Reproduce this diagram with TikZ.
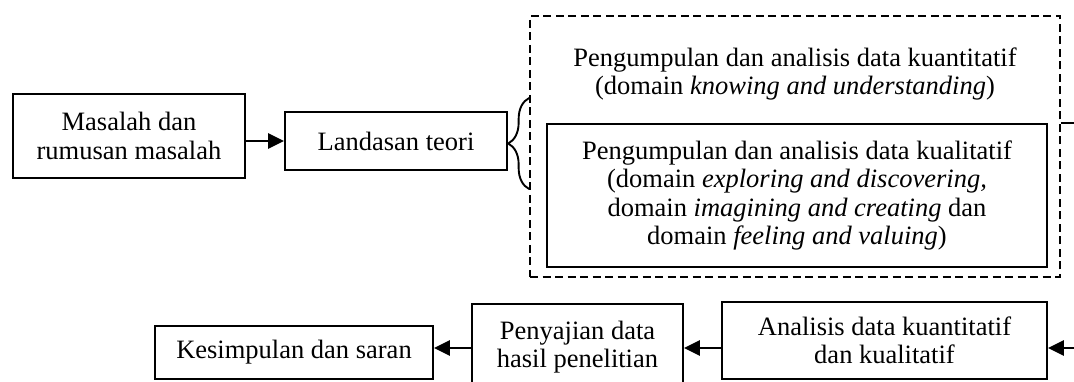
\documentclass[tikz,border=0pt]{standalone}
\usepackage{fontspec}
\setmainfont{Liberation Serif}
\usetikzlibrary{arrows.meta,decorations.pathreplacing}
\begin{document}
\begin{tikzpicture}[x=1pt,y=-1pt,
  lbl/.style={inner sep=0pt, align=center, font=\fontsize{26.5}{28.5}\selectfont},
  box/.style={lbl, draw, line width=1.9pt},
  arr/.style={line width=2.8pt, -{Triangle[length=16pt,width=15pt]}},
  grpbox/.style={draw, line width=1.7pt, dash pattern=on 8pt off 4.5pt},
  bracepath/.style={line width=1.9pt, decorate, decoration={brace, amplitude=21pt}}]
\useasboundingbox (0,0) rectangle (1074,382);
\clip (0,0) rectangle (1074,382);

% top row
\node[box, minimum width=232pt, minimum height=84pt] (masalah) at (129,136) {Masalah dan\\rumusan masalah};
\node[box, minimum width=222pt, minimum height=58pt] (landasan) at (396,141) {Landasan teori};

% dashed group
\node[grpbox, minimum width=530pt, minimum height=261pt] (grp) at (795,146.5) {};
\node[lbl] (kuan) at (795,74) {Pengumpulan dan analisis data kuantitatif\\(domain \textit{knowing and understanding})};
\node[box, minimum width=500pt, minimum height=143pt] (kual) at (797,195.5) {Pengumpulan dan analisis data kualitatif\\(domain \textit{exploring and discovering,}\\domain \textit{imagining and creating} dan\\domain \textit{feeling and valuing})};

% bottom row
\node[box, minimum width=278pt, minimum height=53pt] (kesimpulan) at (294,352.5) {Kesimpulan dan saran};
\node[box, minimum width=211pt, minimum height=86pt] (penyajian) at (577.5,347) {Penyajian data\\hasil penelitian};
\node[box, minimum width=325pt, minimum height=77pt] (analisis) at (884.5,340.5) {Analisis data kuantitatif\\dan kualitatif};

\coordinate (ay) at (0,348);
\coordinate (bt) at (0,98);
\coordinate (bb) at (0,189);
\coordinate (rx) at (1100,0);

% connectors
\draw[arr] (masalah.east |- landasan.west) -- (landasan.west);
\draw[bracepath] (grp.west |- bb) -- (grp.west |- bt);
\draw[arr] (grp.east |- kual.north) -- (rx |- kual.north) -- (rx |- ay) -- (analisis.east |- ay);
\draw[arr] (analisis.west |- ay) -- (penyajian.east |- ay);
\draw[arr] (penyajian.west |- ay) -- (kesimpulan.east |- ay);
\end{tikzpicture}
\end{document}
